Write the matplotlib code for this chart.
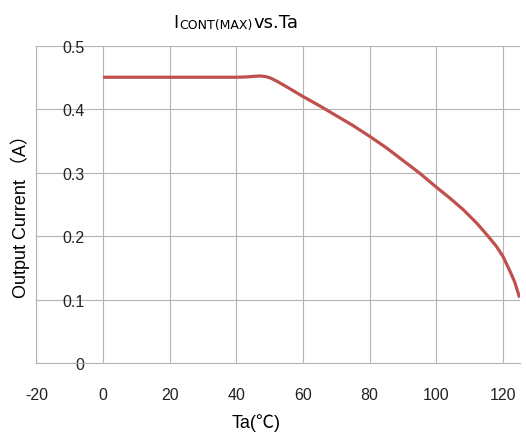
import matplotlib.pyplot as plt

# values
ta = [0, 20, 40, 43, 45.5, 47.4, 49, 50.4, 52.5, 55.4, 60, 65, 70, 75, 80, 85, 90, 95, 100,
      104, 108, 112, 115.5, 118, 120, 122, 123.5, 125]
i_out = [0.45, 0.45, 0.45, 0.4505, 0.4515, 0.452, 0.4508, 0.4485, 0.4428, 0.434, 0.4197,
         0.405, 0.3895, 0.374, 0.357, 0.339, 0.319, 0.299, 0.277,
         0.26, 0.242, 0.221, 0.2, 0.184, 0.168, 0.146, 0.128, 0.103]

xticks = [-20, 0, 20, 40, 60, 80, 100, 120]
yticks = [0, 0.1, 0.2, 0.3, 0.4, 0.5]
ytick_labels = ["0", "0.1", "0.2", "0.3", "0.4", "0.5"]

plt.rcParams['font.family'] = ['Liberation Sans', 'Noto Sans CJK SC', 'DejaVu Sans']
plt.rcParams['axes.unicode_minus'] = False

grid_c = "#b4b4b4"
line_c = "#c0504d"

fig = plt.figure(figsize=(5.26, 4.35), dpi=100)
ax = fig.add_axes([0.0692, 0.1632, 0.9186, 0.7299])

ax.plot(ta, i_out, color=line_c, lw=2.3, solid_capstyle='butt',
        solid_joinstyle='round', zorder=3)

ax.set_xlim(-20, 125)
ax.set_ylim(0, 0.5)
ax.set_xticks(xticks)
ax.set_yticks(yticks)
ax.set_yticklabels(ytick_labels)
ax.grid(True, color=grid_c, lw=0.8)
ax.set_axisbelow(True)

for s in ['top', 'right']:
    ax.spines[s].set_visible(False)
for s in ['left', 'bottom']:
    ax.spines[s].set_color(grid_c)
    ax.spines[s].set_linewidth(0.8)

ax.tick_params(axis='x', length=0, pad=17, labelsize=11.5, colors='#222222')
ax.tick_params(axis='y', length=0, pad=-34.6, labelsize=11.5, colors='#222222')

ax.set_xlabel("Ta(℃)", fontsize=13)
ax.xaxis.set_label_coords(0.4545, -0.186)
ax.xaxis.label.set_va('center')

ax.set_ylabel("Output Current （A）", fontsize=13)
ax.yaxis.set_label_coords(-0.034, 0.479)
ax.yaxis.label.set_va('center')

# title: I + small caps subscript + vs.Ta
t1 = fig.text(173 / 526, 1 - 27.5 / 435, "I", fontsize=12.5, family='DejaVu Sans',
              ha='left', va='baseline')
t2 = ax.annotate("CONT(MAX)", xy=(1, 0), xycoords=t1, xytext=(1, 0),
                 textcoords='offset points', fontsize=9, family='DejaVu Sans',
                 ha='left', va='bottom', annotation_clip=False)
t3 = ax.annotate("vs.Ta", xy=(1, 0), xycoords=t2, xytext=(0.5, 0),
                 textcoords='offset points', fontsize=13, family='DejaVu Sans',
                 ha='left', va='bottom', annotation_clip=False)

fig.savefig("out.png", dpi=100)
